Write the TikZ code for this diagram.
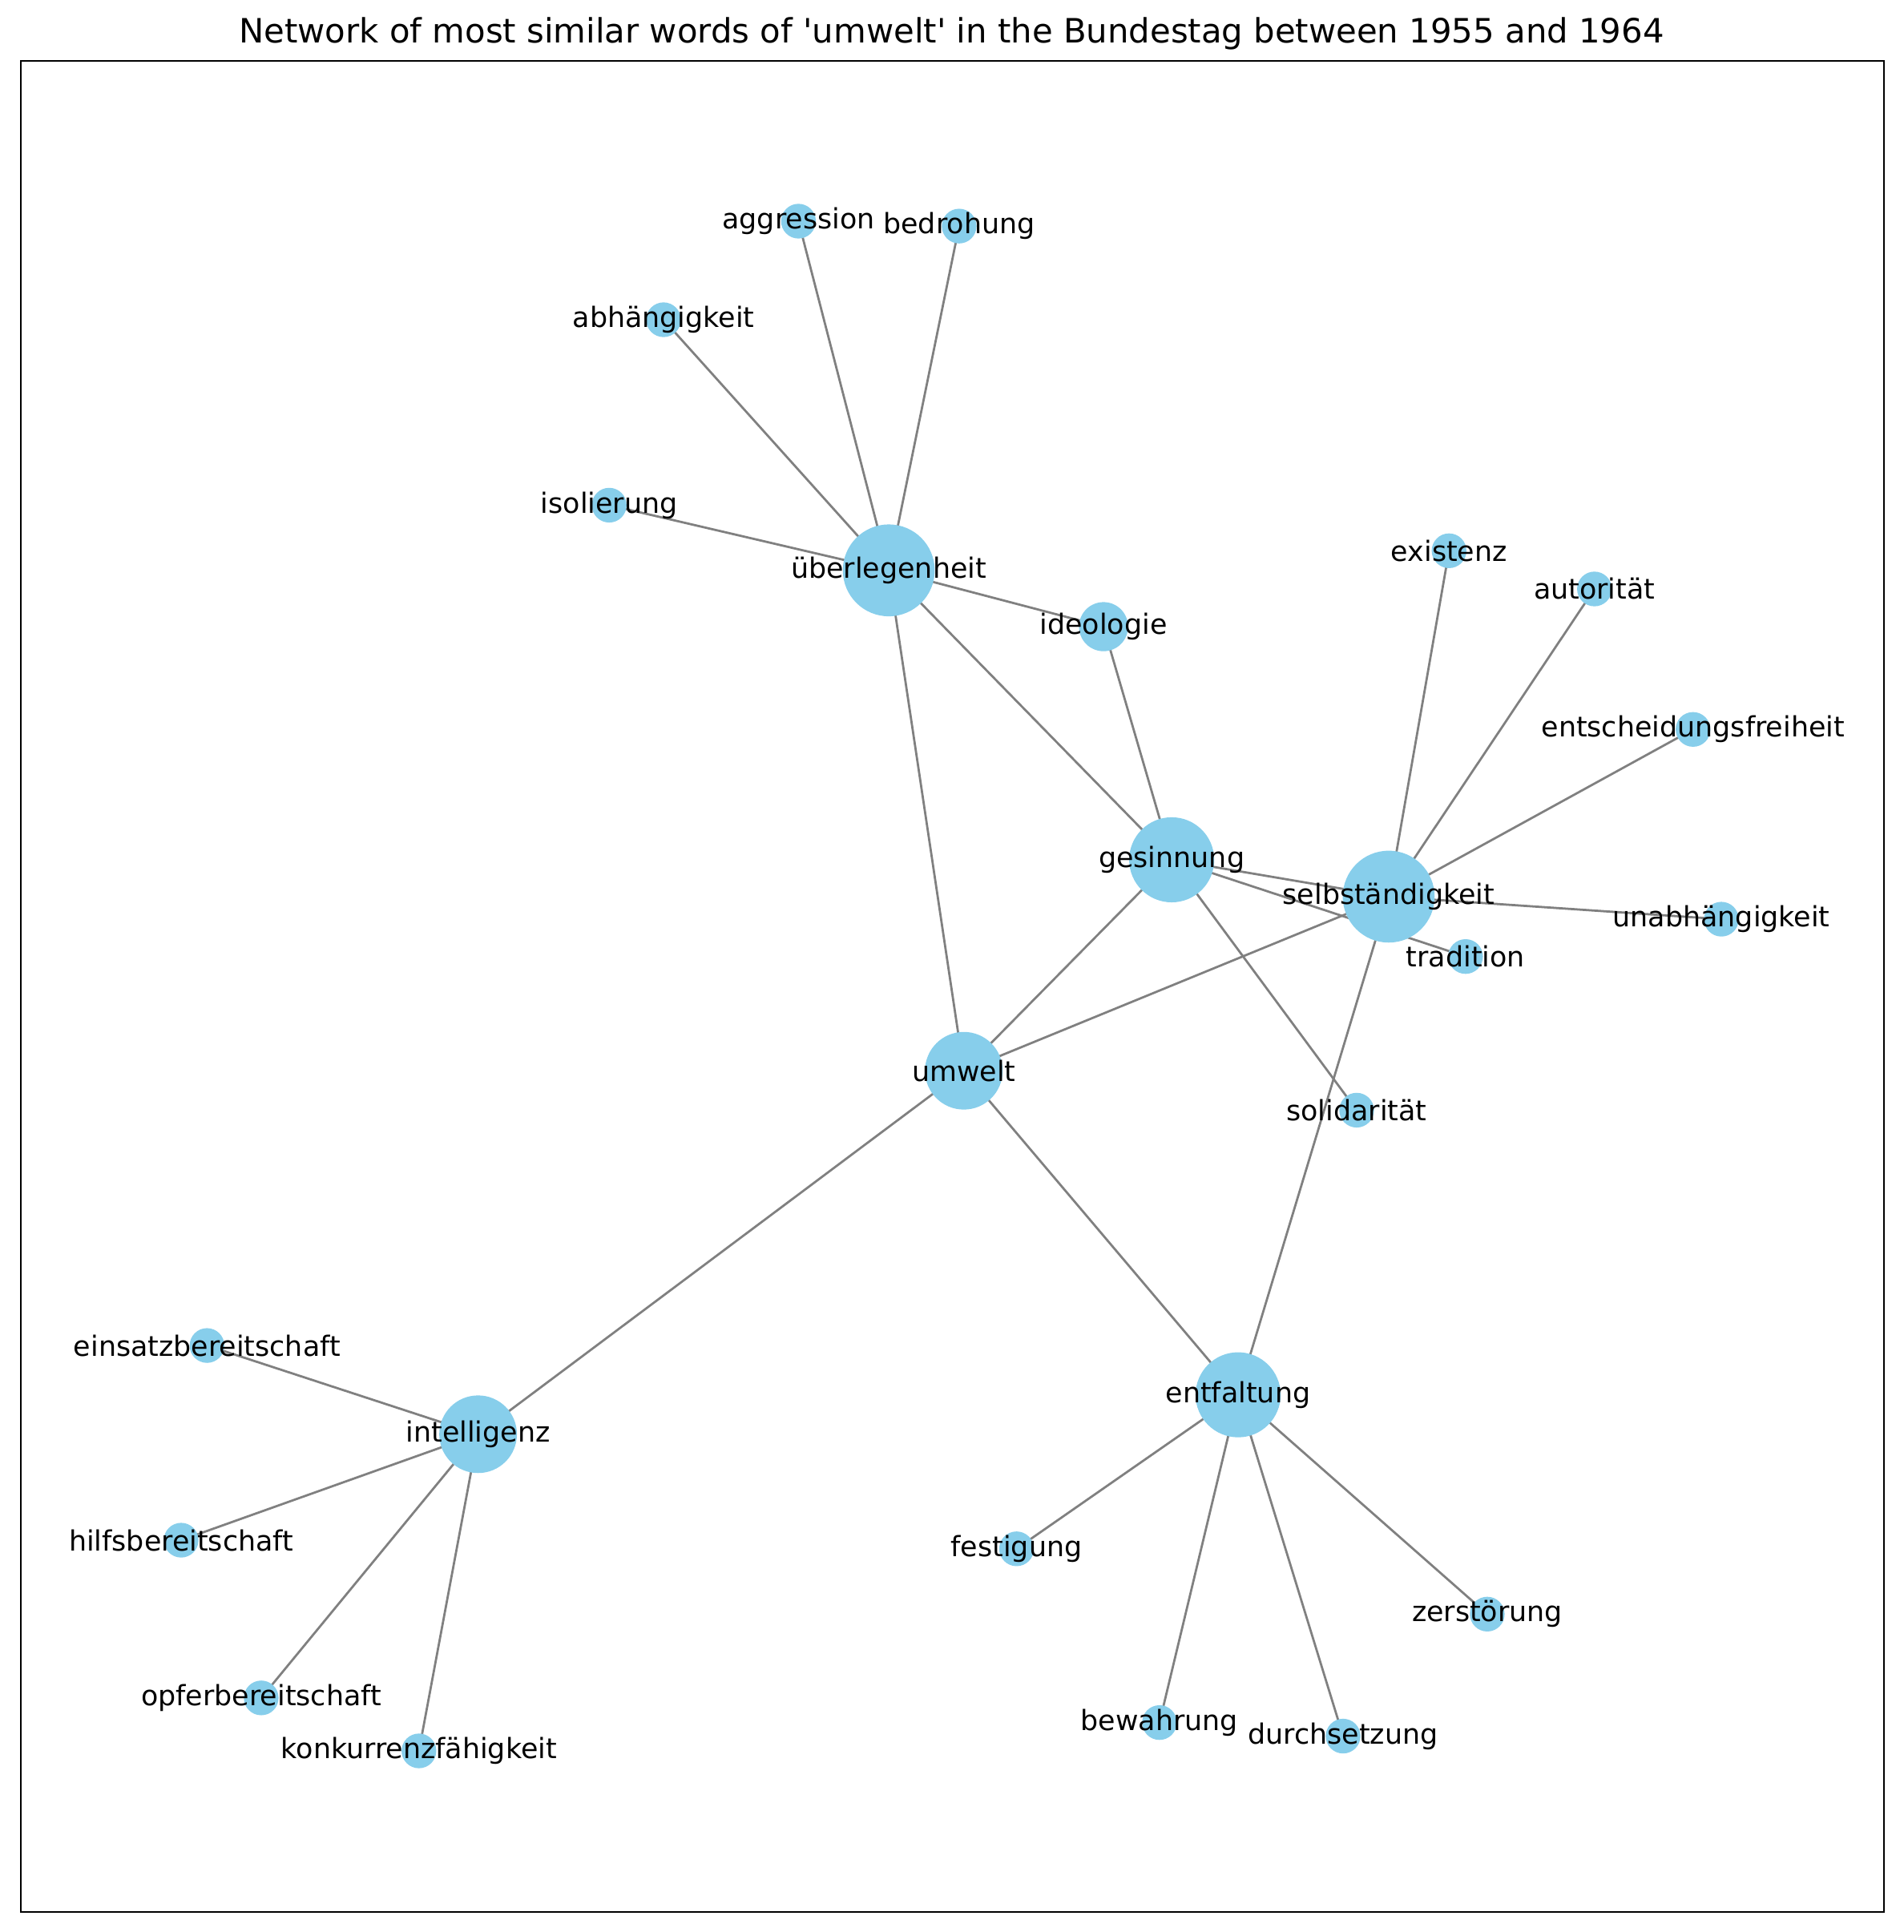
\documentclass[tikz,border=0pt]{standalone}
\usepackage{fontspec}
\setmainfont{DejaVu Sans}[Ligatures=TeXOff]
\definecolor{skyblue}{HTML}{87CEEB}
\pgfdeclarelayer{edgelayer}
\pgfsetlayers{edgelayer,main}
\begin{document}
\begin{tikzpicture}[x=0.55354pt,y=-0.55354pt,
  vtx/.style={circle,fill=skyblue,inner sep=0pt,minimum size=#1},
  d1/.style={vtx=15.6pt},
  d2/.style={vtx=22.06pt},
  d5/.style={vtx=34.88pt},
  d6/.style={vtx=38.21pt},
  d7/.style={vtx=41.27pt},
  lbl/.style={inner sep=0pt,font=\fontsize{12.55}{14}\selectfont},
  link/.style={draw=gray,line width=1pt}]
\useasboundingbox (0,0) rectangle (1544.6,1568);
% title
\node[inner sep=0pt,font=\fontsize{15.05}{18}\selectfont] (title) at (772.3,27.6) {Network of most similar words of 'umwelt' in the Bundestag between 1955 and 1964};
% frame
\draw[line width=0.8pt] (16.7,49.3) rectangle (1528.8,1551.5);
% vertices
\node[d7] (ueb) at (721.3,462.9) {};
\node[d2] (ideo) at (895.6,508.6) {};
\node[d6] (ges) at (950.9,697.8) {};
\node[d7] (selb) at (1127,727.7) {};
\node[d1] (trad) at (1189.4,776.3) {};
\node[d1] (soli) at (1101,901) {};
\node[d5] (umw) at (782.2,869) {};
\node[d6] (entf) at (1004.8,1132) {};
\node[d5] (intel) at (388,1164) {};
\node[d1] (aggr) at (648,179.5) {};
\node[d1] (bedr) at (778.4,183.5) {};
\node[d1] (abh) at (538.5,259.5) {};
\node[d1] (isol) at (494.4,410) {};
\node[d1] (exi) at (1176,447) {};
\node[d1] (auto) at (1294,478) {};
\node[d1] (ents) at (1374,592) {};
\node[d1] (unab) at (1397,746) {};
\node[d1] (eins) at (168,1092) {};
\node[d1] (hilf) at (147,1250) {};
\node[d1] (opfer) at (212,1378) {};
\node[d1] (konk) at (340,1421) {};
\node[d1] (fest) at (825,1257) {};
\node[d1] (bew) at (941,1398) {};
\node[d1] (durch) at (1090,1409) {};
\node[d1] (zer) at (1207,1310) {};
% edges
\begin{pgfonlayer}{edgelayer}
\foreach \a/\b in {ueb/aggr,ueb/bedr,ueb/abh,ueb/isol,ueb/ideo,ueb/ges,ueb/umw,
  ideo/ges,ges/selb,ges/umw,ges/soli,ges/trad,
  selb/exi,selb/auto,selb/ents,selb/unab,selb/umw,selb/entf,
  umw/intel,umw/entf,
  intel/eins,intel/hilf,intel/opfer,intel/konk,
  entf/fest,entf/bew,entf/durch,entf/zer}
  \draw[link] (\a.center) -- (\b.center);
\end{pgfonlayer}
% labels
\node[lbl] (l-ueb) at (ueb.center) {überlegenheit};
\node[lbl] (l-ideo) at (ideo.center) {ideologie};
\node[lbl] (l-ges) at (ges.center) {gesinnung};
\node[lbl] (l-selb) at (selb.center) {selbständigkeit};
\node[lbl] (l-trad) at (trad.center) {tradition};
\node[lbl] (l-soli) at (soli.center) {solidarität};
\node[lbl] (l-umw) at (umw.center) {umwelt};
\node[lbl] (l-entf) at (entf.center) {entfaltung};
\node[lbl] (l-intel) at (intel.center) {intelligenz};
\node[lbl] (l-aggr) at (aggr.center) {aggression};
\node[lbl] (l-bedr) at (bedr.center) {bedrohung};
\node[lbl] (l-abh) at (abh.center) {abhängigkeit};
\node[lbl] (l-isol) at (isol.center) {isolierung};
\node[lbl] (l-exi) at (exi.center) {existenz};
\node[lbl] (l-auto) at (auto.center) {autorität};
\node[lbl] (l-ents) at (ents.center) {entscheidungsfreiheit};
\node[lbl] (l-unab) at (unab.center) {unabhängigkeit};
\node[lbl] (l-eins) at (eins.center) {einsatzbereitschaft};
\node[lbl] (l-hilf) at (hilf.center) {hilfsbereitschaft};
\node[lbl] (l-opfer) at (opfer.center) {opferbereitschaft};
\node[lbl] (l-konk) at (konk.center) {konkurrenzfähigkeit};
\node[lbl] (l-fest) at (fest.center) {festigung};
\node[lbl] (l-bew) at (bew.center) {bewahrung};
\node[lbl] (l-durch) at (durch.center) {durchsetzung};
\node[lbl] (l-zer) at (zer.center) {zerstörung};
\end{tikzpicture}
\end{document}
